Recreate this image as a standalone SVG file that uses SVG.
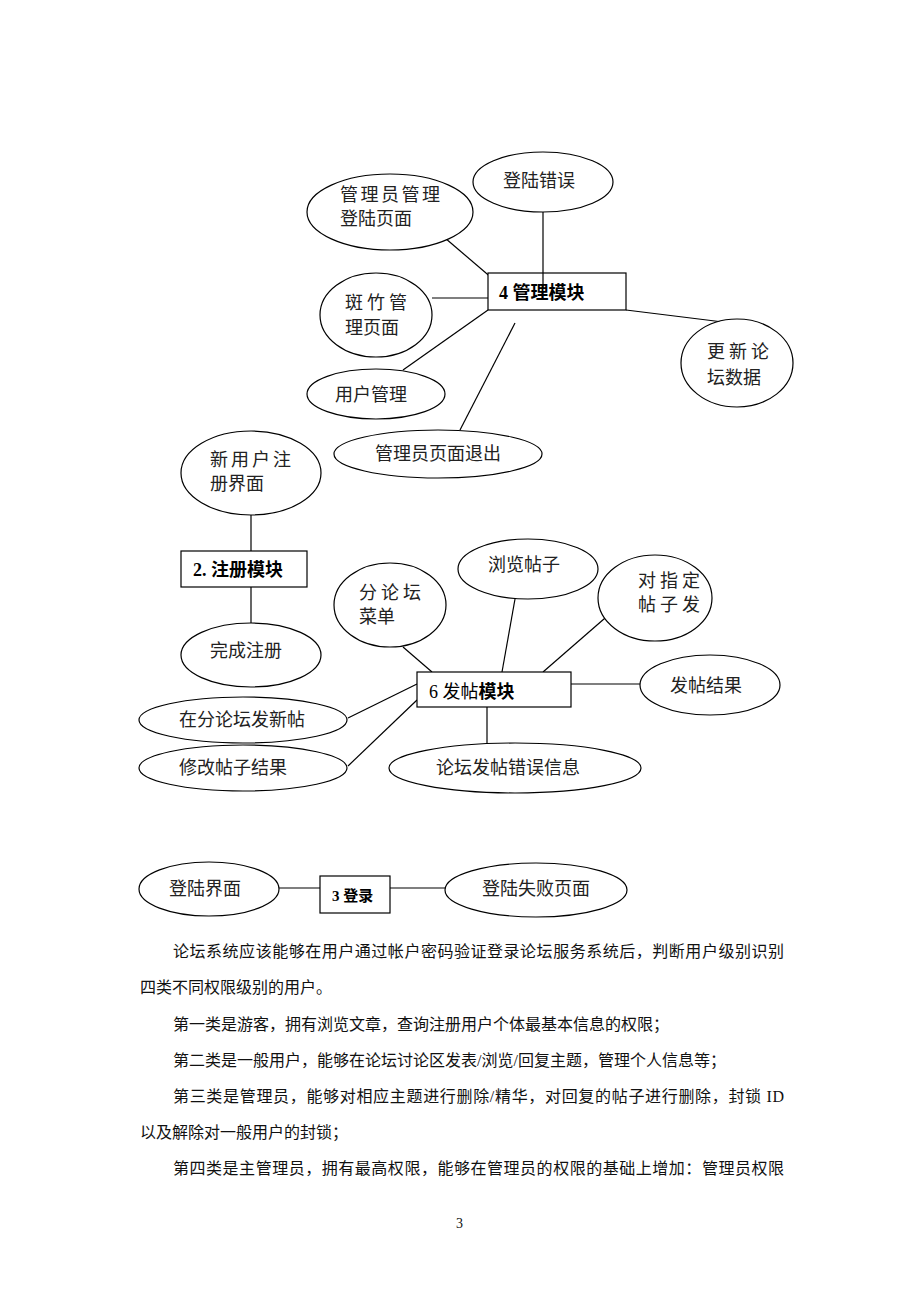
<svg xmlns="http://www.w3.org/2000/svg" width="920" height="1302" viewBox="0 0 920 1302">
<style>
.e{fill:#fff;stroke:#000;stroke-width:1.2}
.b{fill:#fff;stroke:#000;stroke-width:1.2}
.l{stroke:#000;stroke-width:1.2;fill:none}
text{font-family:"Liberation Serif","Noto Sans CJK SC",serif;fill:#222}
.t{font-size:18px}
.k{font-size:18px;font-weight:bold;fill:#000}
.p{font-size:16px;fill:#111}
</style>
<rect width="920" height="1302" fill="#fff"/>
<g id="connectors">
<line class="l" x1="543" y1="212" x2="543" y2="288"/>
<line class="l" x1="445" y1="238" x2="500" y2="285"/>
<line class="l" x1="432" y1="298" x2="488" y2="298"/>
<line class="l" x1="488" y1="310" x2="403" y2="370"/>
<line class="l" x1="515" y1="323" x2="460" y2="430"/>
<line class="l" x1="626" y1="310" x2="723" y2="322"/>
<line class="l" x1="251" y1="515" x2="251" y2="551"/>
<line class="l" x1="251" y1="587" x2="251" y2="623"/>
<line class="l" x1="403" y1="647" x2="432" y2="672"/>
<line class="l" x1="515" y1="599" x2="502" y2="672"/>
<line class="l" x1="612" y1="612" x2="543" y2="672"/>
<line class="l" x1="571" y1="684" x2="640" y2="684"/>
<line class="l" x1="348" y1="718" x2="417" y2="684"/>
<line class="l" x1="348" y1="766" x2="417" y2="700"/>
<line class="l" x1="487" y1="707" x2="487" y2="743"/>
<line class="l" x1="279" y1="888" x2="320" y2="888"/>
<line class="l" x1="390" y1="888" x2="446" y2="888"/>
</g>
<g id="n-admin-login"><ellipse class="e" cx="390" cy="212" rx="83" ry="38"/><text class="t" x="340" y="201" letter-spacing="2.5">管理员管理</text><text class="t" x="340" y="225">登陆页面</text></g>
<g id="n-login-error"><ellipse class="e" cx="543" cy="182" rx="70" ry="30"/><text class="t" x="503" y="187">登陆错误</text></g>
<g id="n-mgmt"><rect class="b" x="488" y="273" width="138" height="37"/><text class="k" x="499" y="299">4 管理模块</text></g>
<line class="l" x1="543" y1="273" x2="543" y2="288"/>
<g id="n-moderator"><ellipse class="e" cx="376" cy="315" rx="56" ry="42"/><text class="t" x="345" y="309" letter-spacing="4">斑竹管</text><text class="t" x="345" y="334">理页面</text></g>
<g id="n-user-mgmt"><ellipse class="e" cx="376" cy="394" rx="69" ry="25"/><text class="t" x="335" y="401">用户管理</text></g>
<g id="n-admin-exit"><ellipse class="e" cx="438" cy="454" rx="104" ry="24"/><text class="t" x="375" y="460">管理员页面退出</text></g>
<g id="n-update"><ellipse class="e" cx="737" cy="363" rx="56" ry="44"/><text class="t" x="707" y="358" letter-spacing="4">更新论</text><text class="t" x="707" y="384">坛数据</text></g>
<g id="n-new-user"><ellipse class="e" cx="251" cy="473" rx="70" ry="42"/><text class="t" x="210" y="466" letter-spacing="3">新用户注</text><text class="t" x="210" y="490">册界面</text></g>
<g id="n-reg"><rect class="b" x="181" y="551" width="126" height="36"/><text class="k" x="193" y="576">2. 注册模块</text></g>
<g id="n-reg-done"><ellipse class="e" cx="251" cy="655" rx="70" ry="32"/><text class="t" x="210" y="657">完成注册</text></g>
<g id="n-sub-menu"><ellipse class="e" cx="390" cy="605" rx="56" ry="42"/><text class="t" x="359" y="599" letter-spacing="4">分论坛</text><text class="t" x="359" y="623">菜单</text></g>
<g id="n-browse"><ellipse class="e" cx="528" cy="569" rx="70" ry="30"/><text class="t" x="488" y="571">浏览帖子</text></g>
<g id="n-reply"><ellipse class="e" cx="655" cy="598" rx="57" ry="43"/><text class="t" x="638" y="587" letter-spacing="4">对指定</text><text class="t" x="638" y="611" letter-spacing="4">帖子发</text></g>
<g id="n-post"><rect class="b" x="417" y="672" width="154" height="35"/><text class="t" x="429" y="698" style="fill:#000">6 发帖<tspan font-weight="bold">模块</tspan></text></g>
<g id="n-post-result"><ellipse class="e" cx="710" cy="685" rx="70" ry="30"/><text class="t" x="670" y="692">发帖结果</text></g>
<g id="n-new-post"><ellipse class="e" cx="243" cy="720" rx="104" ry="23"/><text class="t" x="179" y="726">在分论坛发新帖</text></g>
<g id="n-edit"><ellipse class="e" cx="243" cy="768" rx="104" ry="23"/><text class="t" x="179" y="774">修改帖子结果</text></g>
<g id="n-post-error"><ellipse class="e" cx="515" cy="768" rx="126" ry="25"/><text class="t" x="436" y="774">论坛发帖错误信息</text></g>
<g id="n-login-page"><ellipse class="e" cx="209" cy="889" rx="70" ry="27"/><text class="t" x="169" y="895">登陆界面</text></g>
<g id="n-login"><rect class="b" x="320" y="876" width="70" height="37"/><text class="k" x="332" y="901" style="font-size:15px">3 登录</text></g>
<g id="n-login-fail"><ellipse class="e" cx="536" cy="890" rx="91" ry="27"/><text class="t" x="482" y="895">登陆失败页面</text></g>
<g id="text">
<text class="p" x="173" y="957" textLength="611" lengthAdjust="spacing">论坛系统应该能够在用户通过帐户密码验证登录论坛服务系统后，判断用户级别识别</text>
<text class="p" x="140" y="993">四类不同权限级别的用户。</text>
<text class="p" x="173" y="1030">第一类是游客，拥有浏览文章，查询注册用户个体最基本信息的权限；</text>
<text class="p" x="173" y="1066">第二类是一般用户，能够在论坛讨论区发表/浏览/回复主题，管理个人信息等；</text>
<text class="p" x="173" y="1102" textLength="611" lengthAdjust="spacing">第三类是管理员，能够对相应主题进行删除/精华，对回复的帖子进行删除，封锁 ID</text>
<text class="p" x="140" y="1138">以及解除对一般用户的封锁；</text>
<text class="p" x="173" y="1174" textLength="611" lengthAdjust="spacing">第四类是主管理员，拥有最高权限，能够在管理员的权限的基础上增加：管理员权限</text>
<text class="p" x="456" y="1228" style="font-size:14px">3</text>
</g>
</svg>
